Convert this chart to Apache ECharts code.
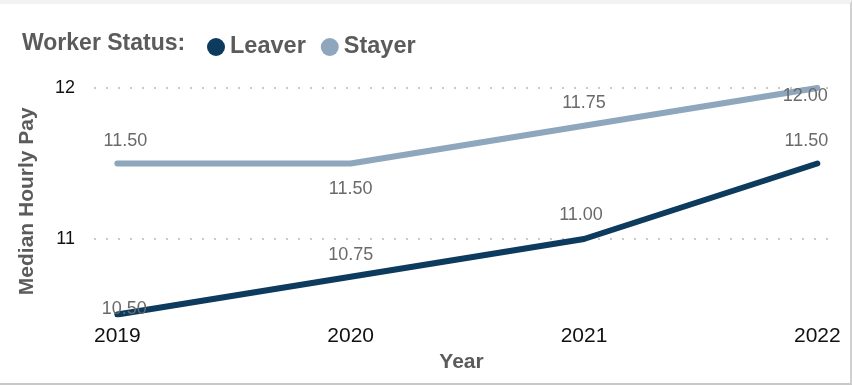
<!DOCTYPE html>
<html>
<head>
<meta charset="utf-8">
<script src="https://cdn.jsdelivr.net/npm/echarts@6/dist/echarts.min.js"></script>
<style>
  html, body { margin: 0; padding: 0; background: #fff; }
  #frame { position: relative; width: 852px; height: 385px; box-sizing: border-box;
           border-top: 4px solid #f2f2f2; border-right: 2px solid #d0d0d0; border-bottom: 2px solid #c8c8c8; }
  #chart { position: absolute; left: 0; top: -4px; width: 852px; height: 385px; }
</style>
</head>
<body>
<div id="frame"><div id="chart"></div></div>
<script>
// Median hourly pay by year, split by worker status
const years = [2019, 2020, 2021, 2022];
const leaverPay = [10.50, 10.75, 11.00, 11.50];
const stayerPay = [11.50, 11.50, 11.75, 12.00];
const yTickLabels = [11, 12];

// Where each value label sits relative to its point: [dx, dy]
const leaverLabelOffsets = [[7, -5], [0, -22], [-3, -24], [-11, -22]];
const stayerLabelOffsets = [[8, -22], [0, 26], [0, -23], [-12, 8]];

const LEAVER = '#0c3b5e';
const STAYER = '#8ea7bc';
const labelColor = '#6a6a6a';
const titleColor = '#5b5b5b';
const FONT = '"Liberation Sans", Arial, sans-serif';

function buildPoints(values, offsets) {
  return years.map((y, i) => ({
    value: [y, values[i]],
    label: { offset: offsets[i] }
  }));
}

function lineSeries(name, values, offsets, color) {
  return {
    name: name,
    type: 'line',
    data: buildPoints(values, offsets),
    showSymbol: true,
    symbol: 'circle',
    symbolSize: 4,
    itemStyle: { color: color },
    lineStyle: { color: color, width: 6, cap: 'round', join: 'round' },
    label: {
      show: true,
      position: 'inside',
      color: labelColor,
      fontFamily: FONT,
      fontSize: 18,
      formatter: p => p.value[1].toFixed(2)
    },
    emphasis: { disabled: true }
  };
}

const chart = echarts.init(document.getElementById('chart'), null, { renderer: 'canvas' });
chart.setOption({
  animation: false,
  backgroundColor: 'transparent',
  title: {
    text: 'Worker Status:',
    left: 17,
    top: 27,
    textStyle: { color: titleColor, fontFamily: FONT, fontWeight: 'bold', fontSize: 23 }
  },
  legend: {
    left: 202,
    top: 30,
    icon: 'circle',
    itemWidth: 18,
    itemHeight: 18,
    itemGap: 15,
    textStyle: { color: titleColor, fontFamily: FONT, fontWeight: 'bold', fontSize: 23.5 },
    data: [
      { name: 'Leaver', itemStyle: { color: LEAVER } },
      { name: 'Stayer', itemStyle: { color: STAYER } }
    ]
  },
  grid: { left: 94, right: 23, top: 88, bottom: 70.5, containLabel: false },
  xAxis: {
    type: 'value',
    min: 2018.9,
    max: 2022.05,
    interval: 0.05,
    name: 'Year',
    nameLocation: 'middle',
    nameGap: 35,
    nameTextStyle: { color: titleColor, fontFamily: FONT, fontWeight: 'bold', fontSize: 21 },
    axisLine: { show: false },
    axisTick: { show: false },
    splitLine: { show: false },
    axisLabel: {
      color: '#111',
      fontFamily: FONT,
      fontSize: 21,
      margin: 11,
      formatter: v => {
        const r = Math.round(v);
        return (Math.abs(v - r) < 1e-6 && years.includes(r)) ? String(r) : '';
      }
    }
  },
  yAxis: {
    type: 'value',
    min: 10.5,
    max: 12,
    interval: 0.5,
    name: 'Median Hourly Pay',
    nameLocation: 'middle',
    nameGap: 56,
    nameTextStyle: { color: titleColor, fontFamily: FONT, fontWeight: 'bold', fontSize: 21 },
    axisLine: { show: false },
    axisTick: { show: false },
    axisLabel: {
      color: '#111',
      fontFamily: FONT,
      fontSize: 18,
      margin: 19,
      formatter: v => yTickLabels.includes(v) ? String(v) : ''
    },
    splitLine: {
      show: true,
      lineStyle: { color: ['rgba(0,0,0,0)', '#c9c9c9'], width: 2, type: [2, 10] }
    }
  },
  series: [
    lineSeries('Leaver', leaverPay, leaverLabelOffsets, LEAVER),
    lineSeries('Stayer', stayerPay, stayerLabelOffsets, STAYER)
  ]
});
</script>
</body>
</html>
